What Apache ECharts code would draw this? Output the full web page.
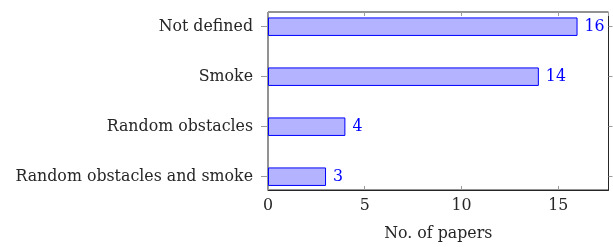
<!DOCTYPE html>
<html><head><meta charset="utf-8">
<script src="https://cdn.jsdelivr.net/npm/echarts@6/dist/echarts.min.js"></script>
<style>html,body{margin:0;padding:0;background:#fff}#c{width:613px;height:247px}</style>
</head><body><div id="c"></div>
<script>
const categories = ["Not defined", "Smoke", "Random obstacles", "Random obstacles and smoke"];
const values = [16, 14, 4, 3];
const xTicks = [0, 5, 10, 15];
const xMax = 17.6;
const xName = "No. of papers";

const FONT = "DejaVu Serif";
const FS = 15.8;
const TXT = "#262626";
const chart = echarts.init(document.getElementById('c'), null, {renderer: 'canvas'});
const L = 268, R = 4.5;
chart.setOption({
  animation: false,
  grid: [
    {left: L, right: R, top: 26.7, bottom: 70.3, show: false},
    {left: L, right: R, top: 12, bottom: 54.5, show: true, borderColor: TXT, borderWidth: 1, backgroundColor: 'transparent'}
  ],
  xAxis: [
    {gridIndex: 0, type: 'value', min: 0, max: xMax, show: false},
    {gridIndex: 1, type: 'value', min: 0, max: xMax, interval: 5, position: 'bottom',
     axisLine: {show: true, lineStyle: {color: TXT}},
     axisTick: {show: true, inside: true, length: 4, lineStyle: {color: '#9a9a9a'}},
     axisLabel: {show: true, fontFamily: FONT, fontSize: FS, color: TXT, margin: 8, showMaxLabel: false,
       formatter: v => xTicks.includes(v) ? String(v) : ''},
     splitLine: {show: false},
     name: xName, nameLocation: 'middle', nameGap: 36,
     nameTextStyle: {fontFamily: FONT, fontSize: FS, color: TXT}},
    {gridIndex: 1, type: 'value', min: 0, max: xMax, interval: 5, position: 'top',
     axisLine: {show: false},
     axisTick: {show: true, inside: true, length: 4, lineStyle: {color: '#9a9a9a'}},
     axisLabel: {show: false}, splitLine: {show: false}}
  ],
  yAxis: [
    {gridIndex: 0, type: 'category', data: categories, inverse: true, boundaryGap: false, position: 'left',
     axisLine: {show: false},
     axisTick: {show: true, length: 7, lineStyle: {color: '#9a9a9a'}},
     axisLabel: {fontFamily: FONT, fontSize: FS, color: TXT, margin: 15}},
    {gridIndex: 0, type: 'category', data: categories, inverse: true, boundaryGap: false, position: 'right',
     axisLine: {show: false},
     axisTick: {show: true, length: 4, lineStyle: {color: '#9a9a9a'}},
     axisLabel: {show: false}},
    {gridIndex: 1, type: 'value', show: false}
  ],
  series: [{
    type: 'bar', xAxisIndex: 0, yAxisIndex: 0, data: values, barWidth: 18.5,
    itemStyle: {color: '#b3b3ff', borderColor: '#0000ff', borderWidth: 1},
    label: {show: true, position: 'right', distance: 7, fontFamily: FONT, fontSize: FS, color: '#0000ff'}
  }]
});
</script></body></html>
